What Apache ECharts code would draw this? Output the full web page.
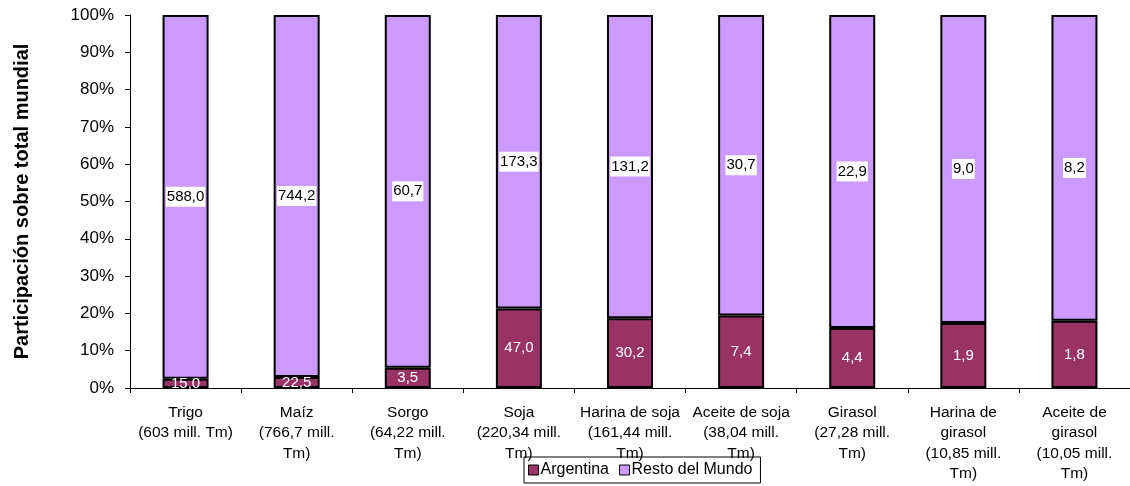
<!DOCTYPE html>
<html><head><meta charset="utf-8">
<script src="https://cdn.jsdelivr.net/npm/echarts@6/dist/echarts.min.js"></script>
<style>html,body{margin:0;padding:0;background:#fff}#c{width:1130px;height:486px}</style>
</head><body><div id="c"></div>
<script>
const categories = [
  "Trigo\n(603 mill. Tm)",
  "Maíz\n(766,7 mill.\nTm)",
  "Sorgo\n(64,22 mill.\nTm)",
  "Soja\n(220,34 mill.\nTm)",
  "Harina de soja\n(161,44 mill.\nTm)",
  "Aceite de soja\n(38,04 mill.\nTm)",
  "Girasol\n(27,28 mill.\nTm)",
  "Harina de\ngirasol\n(10,85 mill.\nTm)",
  "Aceite de\ngirasol\n(10,05 mill.\nTm)"
];
const argentina = [15.0, 22.5, 3.5, 47.0, 30.2, 7.4, 4.4, 1.9, 1.8];
const restoMundo = [588.0, 744.2, 60.7, 173.3, 131.2, 30.7, 22.9, 9.0, 8.2];
const yTicks = [0,10,20,30,40,50,60,70,80,90,100];

const totals = argentina.map((a,i)=>a+restoMundo[i]);
const toPct = (arr)=>arr.map((v,i)=>({value: v/totals[i]*100, raw: v}));
const fmt = (p)=>p.data.raw.toFixed(1).replace('.', ',');
const FONT = "Arial, 'Liberation Sans', sans-serif";

const chart = echarts.init(document.getElementById('c'));
chart.setOption({
  animation:false,
  textStyle:{fontFamily:FONT},
  grid:{left:130, top:15, width:1017, height:373, containLabel:false},
  legend:{
    left:524, top:457, itemGap:10, itemWidth:10, itemHeight:10,
    padding:[5,8,5,4], borderColor:'#000', borderWidth:1,
    icon:'rect', itemStyle:{borderColor:'#000', borderWidth:1},
    textStyle:{fontFamily:FONT, fontSize:16, color:'#000', padding:[0,0,0,-3]},
    data:['Argentina','Resto del Mundo']
  },
  xAxis:{
    type:'category', data:categories,
    axisLine:{lineStyle:{color:'#000', width:1}},
    axisTick:{show:true, length:5, lineStyle:{color:'#000'}},
    axisLabel:{interval:0, color:'#000', fontSize:15.5, lineHeight:20.5, margin:14, fontFamily:FONT}
  },
  yAxis:{
    type:'value', min:0, max:100, interval:10,
    name:'Participación sobre total mundial', nameLocation:'middle', nameGap:98,
    nameTextStyle:{fontSize:20, fontWeight:'bold', color:'#000', fontFamily:FONT},
    splitLine:{show:false},
    axisLine:{show:true, lineStyle:{color:'#000'}},
    axisTick:{show:true, length:5, lineStyle:{color:'#000'}},
    axisLabel:{formatter:'{value}%', color:'#000', fontSize:17, margin:16, fontFamily:FONT}
  },
  series:[
    {
      name:'Argentina', type:'bar', stack:'t', barWidth:46,
      data: toPct(argentina),
      itemStyle:{color:'#993366', borderColor:'#000', borderWidth:2},
      label:{show:true, position:'inside', formatter:fmt, color:'#fff', fontSize:15, fontFamily:FONT}
    },
    {
      name:'Resto del Mundo', type:'bar', stack:'t', barWidth:46,
      data: toPct(restoMundo),
      itemStyle:{color:'#CC99FF', borderColor:'#000', borderWidth:2},
      label:{show:true, position:'inside', formatter:fmt, color:'#000', fontSize:15, fontFamily:FONT,
             backgroundColor:'#fff', padding:[3,1,2,1]}
    }
  ]
});
</script></body></html>
